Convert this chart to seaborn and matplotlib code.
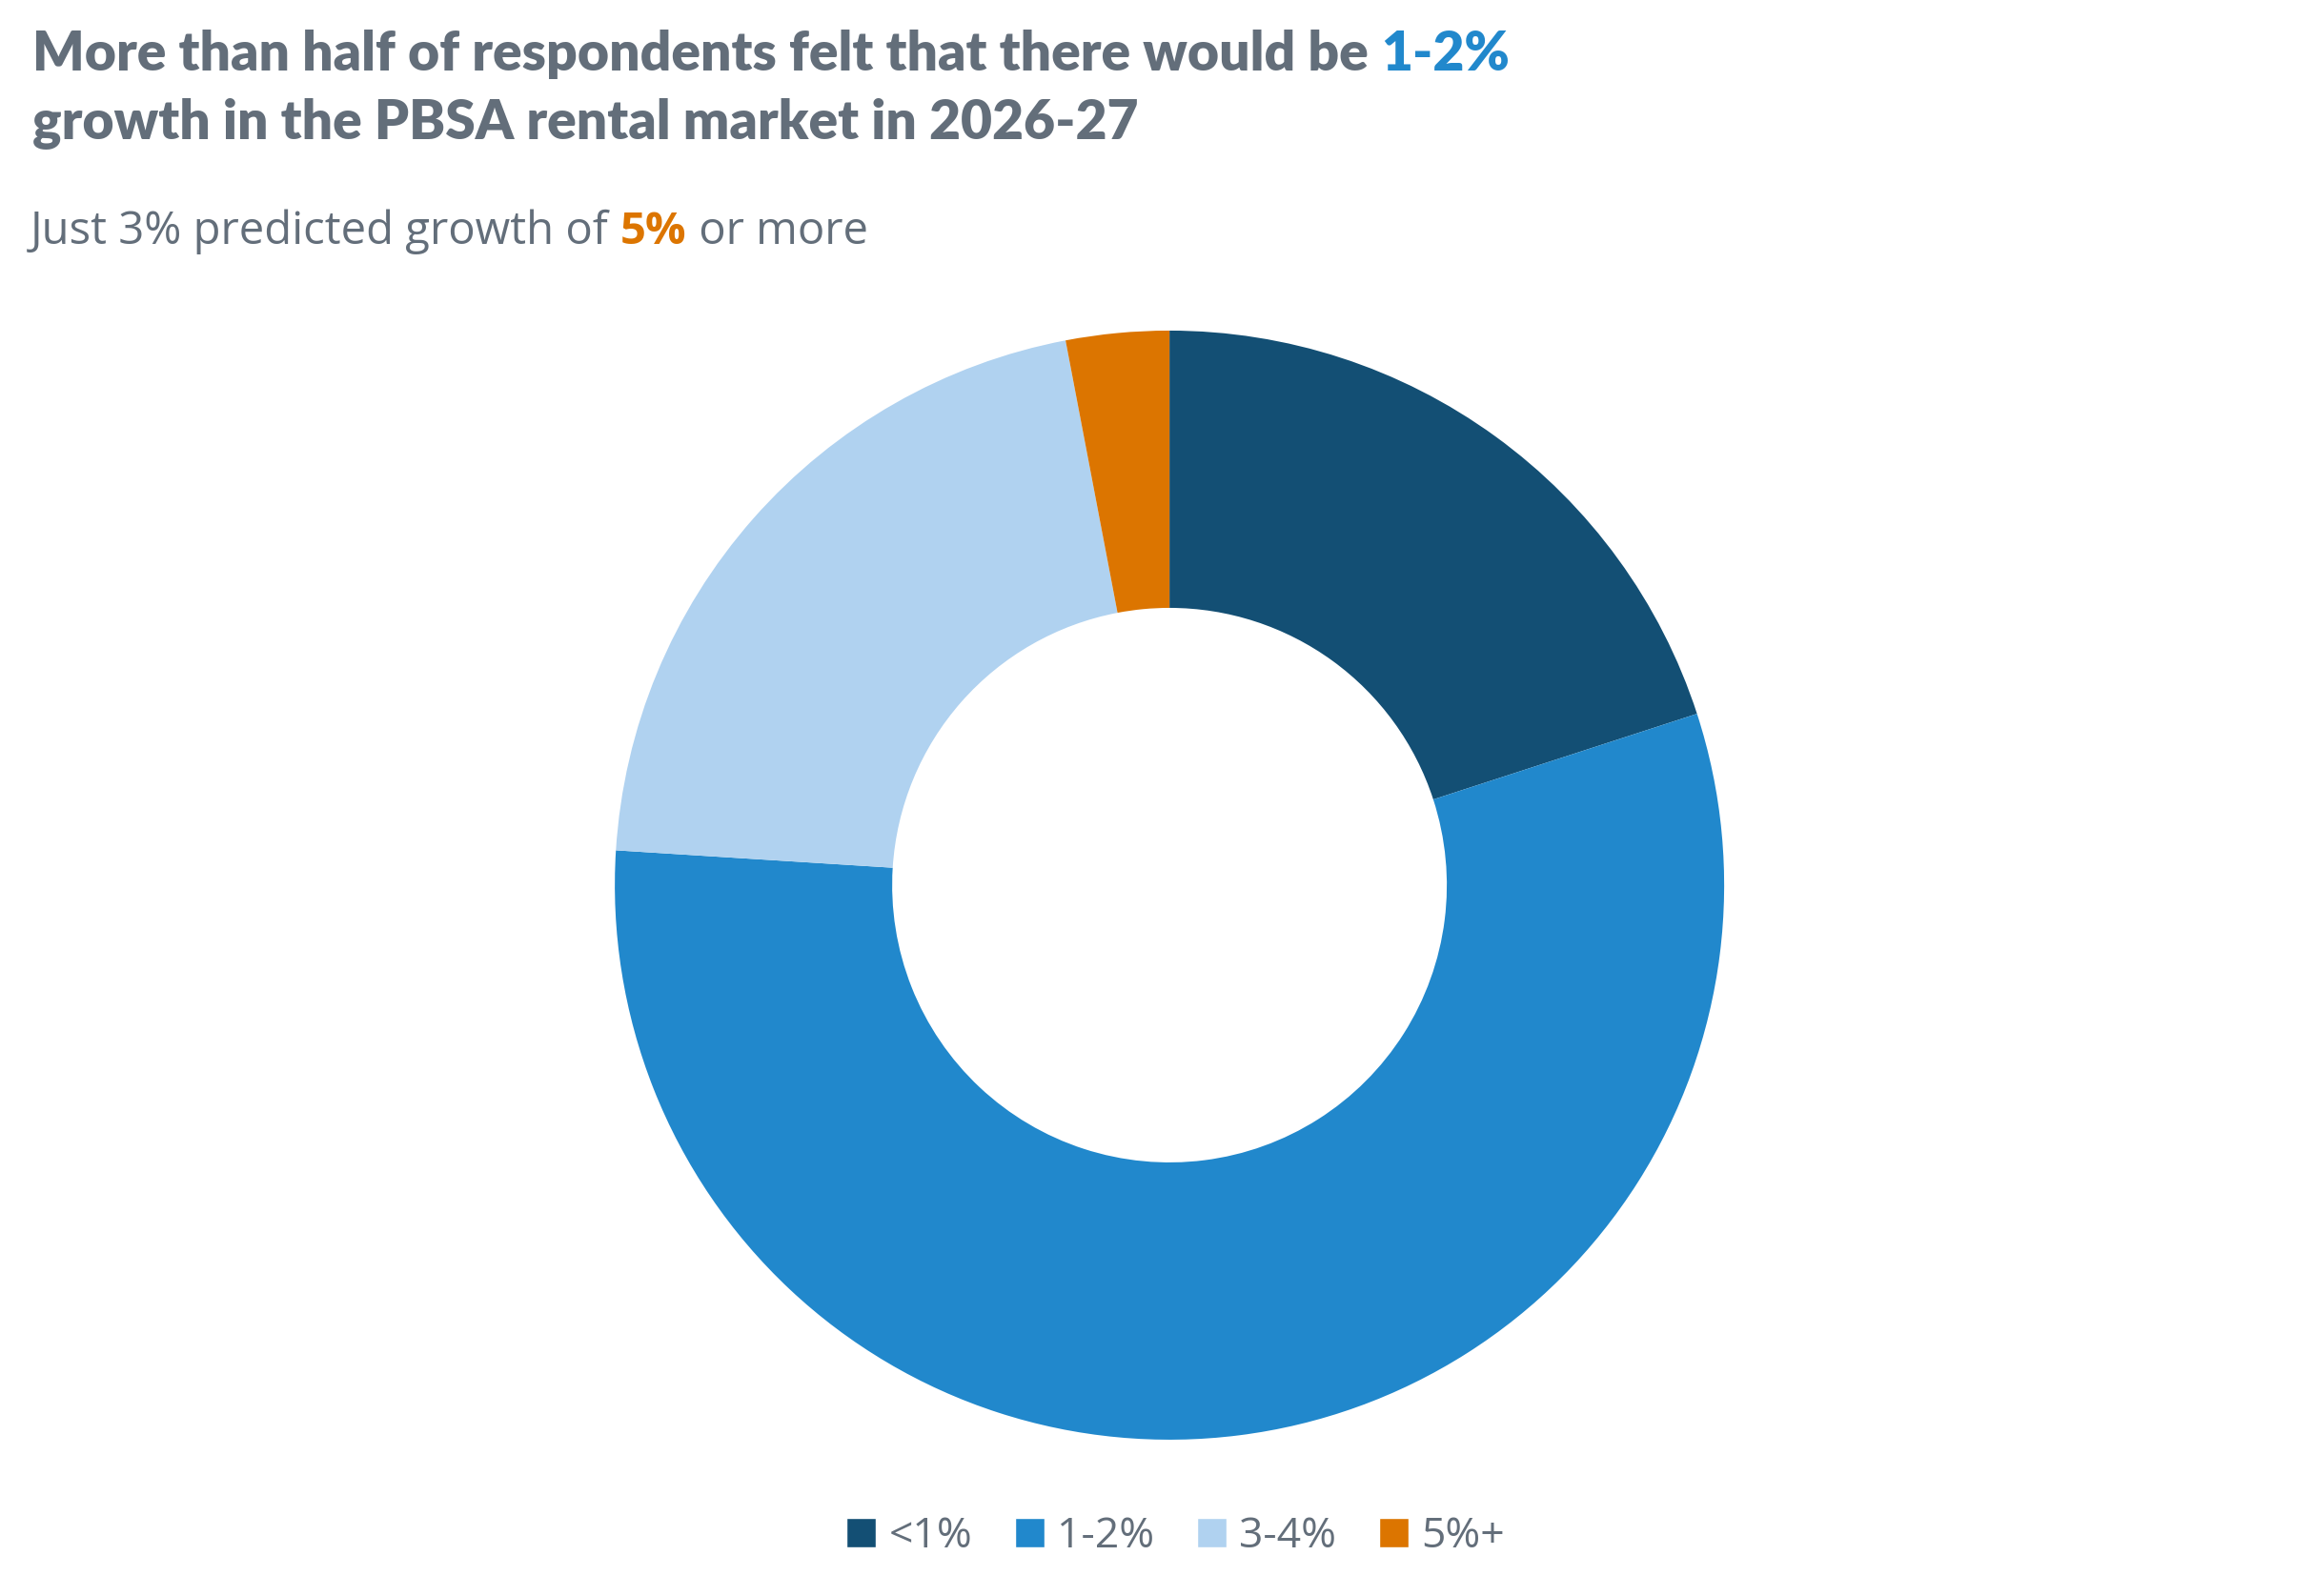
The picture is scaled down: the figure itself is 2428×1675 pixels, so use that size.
import matplotlib
matplotlib.use("Agg")
import matplotlib.pyplot as plt
import seaborn as sns
from matplotlib.patches import Patch

sns.set_theme(style="white")
plt.rcParams['font.family'] = ['Lato', 'DejaVu Sans']

# data
labels = ["<1%", "1-2%", "3-4%", "5%+"]
shares = [20, 56, 21, 3]
colors = sns.color_palette(["#134f74", "#2188cc", "#b0d2f0", "#dc7500"])
grey = "#636e7a"

fig = plt.figure(figsize=(24.28, 16.75), dpi=100)
renderer = fig.canvas.get_renderer()


def rich_text(x, y, parts, **kw):
    # place coloured pieces one after another, in figure pixels
    for txt, col, weight in parts:
        t = fig.text(x / 2428, y / 1675, txt, color=col, fontweight=weight,
                     va="center", ha="left", **kw)
        bb = t.get_window_extent(renderer=renderer)
        x += bb.width


rich_text(34, 1675 - 57, [("More than half of respondents felt that there would be ", grey, "heavy"),
                          ("1-2%", "#2188cc", "heavy")], fontsize=41)
rich_text(34, 1675 - 130, [("growth in the PBSA rental market in 2026-27", grey, "heavy")], fontsize=41)
rich_text(32, 1675 - 243, [("Just 3% predicted growth of ", grey, "normal"),
                           ("5%", "#dc7500", "bold"),
                           (" or more", grey, "normal")], fontsize=34, family="Open Sans")

ax = fig.add_axes([0.2657, 0.0979, 0.4794, 0.695])
ax.pie(shares, colors=colors, startangle=90, counterclock=False, radius=1,
       wedgeprops=dict(width=0.5, linewidth=0))
ax.set_xlim(-1, 1)
ax.set_ylim(-1, 1)
ax.set_aspect("equal")
ax.axis("off")

handles = [Patch(facecolor=c, label=l) for c, l in zip(colors, labels)]
leg = fig.legend(handles=handles, loc="center", bbox_to_anchor=(0.508, 0.037), ncol=4,
                 frameon=False, fontsize=32, handlelength=0.7, handleheight=0.7,
                 handletextpad=0.3, columnspacing=1.0, prop={"family": "Open Sans", "size": 32})
for t in leg.get_texts():
    t.set_color(grey)

fig.savefig("out.png", dpi=100)
